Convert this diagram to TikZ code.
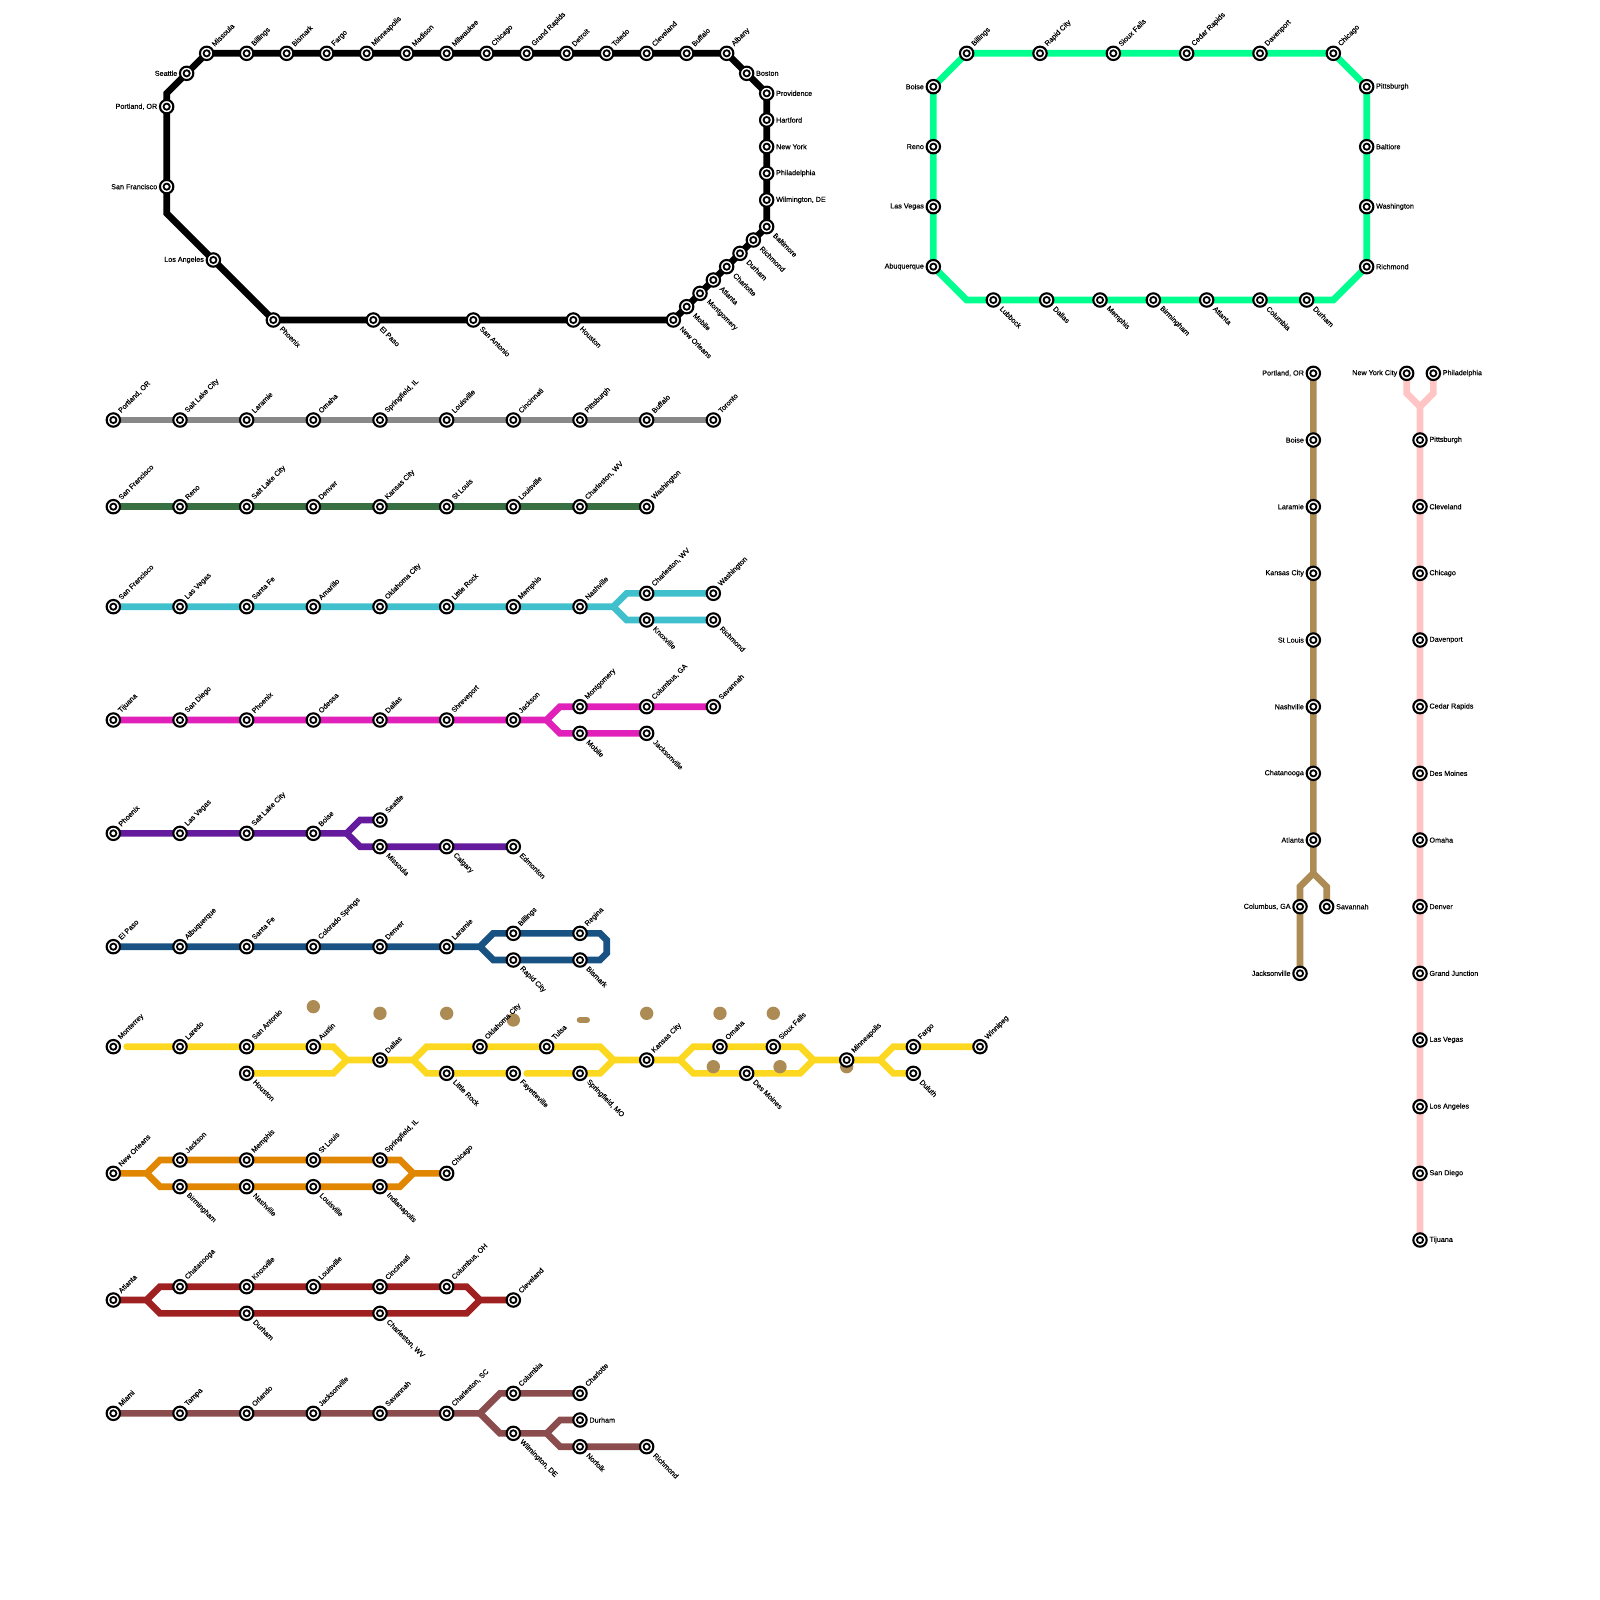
\documentclass[tikz,border=0pt]{standalone}
\usepackage{fontspec}
\setmainfont{Liberation Sans}
\newfontfamily\lblfont[FakeBold=0.25]{Liberation Sans}
\usepackage{xcolor}
\usetikzlibrary{backgrounds}
\definecolor{metroblack}{RGB}{0,0,0}
\definecolor{metrogray}{RGB}{136,136,136}
\definecolor{metrogreen}{RGB}{56,112,68}
\definecolor{metroteal}{RGB}{64,192,204}
\definecolor{metromagenta}{RGB}{224,32,184}
\definecolor{metropurple}{RGB}{100,26,156}
\definecolor{metroblue}{RGB}{24,82,130}
\definecolor{metroyellow}{RGB}{253,216,33}
\definecolor{metroorange}{RGB}{224,134,0}
\definecolor{metrored}{RGB}{158,32,32}
\definecolor{metroplum}{RGB}{138,76,76}
\definecolor{metromint}{RGB}{0,255,143}
\definecolor{metrotan}{RGB}{172,140,84}
\definecolor{metropink}{RGB}{255,196,196}

\begin{document}
\begin{tikzpicture}[
  x=1pt, y=-1pt,
  stn/.style={circle, draw=black, fill=white, line width=2.1pt, inner sep=0pt,
    minimum size=13.4pt,
    path picture={\draw[line width=1.8pt] (path picture bounding box.center) circle (3.1pt);}},
  lbl/.style={font=\lblfont\fontsize{7.2}{8}\selectfont, inner sep=1pt, text=black},
  lblne/.style={label={[lbl, anchor=west, rotate=45, label distance=2pt]45:{#1}}},
  lblse/.style={label={[lbl, anchor=west, rotate=-45, label distance=2pt, xshift=0.5pt, yshift=1.5pt]-45:{#1}}},
  lblw/.style={label={[lbl, anchor=east, label distance=0.5pt]180:{#1}}},
  lble/.style={label={[lbl, anchor=west, label distance=0.5pt]0:{#1}}},
  track/.style={line width=6.67pt, line join=miter},
  blob/.style={circle, fill=metrotan, inner sep=0pt, minimum size=13.33pt}
]
  \useasboundingbox (0,0) rectangle (1600,1600);

  \node[stn, lblne={Missoula}] (blkmissoula) at (206.67,53.33) {};
  \node[stn, lblne={Billings}] (blkbillings) at (246.67,53.33) {};
  \node[stn, lblne={Bismark}] (blkbismark) at (286.67,53.33) {};
  \node[stn, lblne={Fargo}] (blkfargo) at (326.67,53.33) {};
  \node[stn, lblne={Minneapolis}] (blkminneapolis) at (366.67,53.33) {};
  \node[stn, lblne={Madison}] (blkmadison) at (406.67,53.33) {};
  \node[stn, lblne={Milwaukee}] (blkmilwaukee) at (446.67,53.33) {};
  \node[stn, lblne={Chicago}] (blkchicago) at (486.67,53.33) {};
  \node[stn, lblne={Grand Rapids}] (blkgrandrapids) at (526.67,53.33) {};
  \node[stn, lblne={Detroit}] (blkdetroit) at (566.67,53.33) {};
  \node[stn, lblne={Toledo}] (blktoledo) at (606.67,53.33) {};
  \node[stn, lblne={Cleveland}] (blkcleveland) at (646.67,53.33) {};
  \node[stn, lblne={Buffalo}] (blkbuffalo) at (686.67,53.33) {};
  \node[stn, lblne={Albany}] (blkalbany) at (726.67,53.33) {};
  \node[stn, lble={Boston}] (blkboston) at (746.67,73.33) {};
  \node[stn, lble={Providence}] (blkprovidence) at (766.67,93.33) {};
  \node[stn, lble={Hartford}] (blkhartford) at (766.67,120) {};
  \node[stn, lble={New York}] (blknewyork) at (766.67,146.67) {};
  \node[stn, lble={Philadelphia}] (blkphiladelphia) at (766.67,173.33) {};
  \node[stn, lble={Wilmington, DE}] (blkwilmington) at (766.67,200) {};
  \node[stn, lblse={Baltimore}] (blkbaltimore) at (766.67,226.67) {};
  \node[stn, lblse={Richmond}] (blkrichmond) at (753.33,240) {};
  \node[stn, lblse={Durham}] (blkdurham) at (740,253.33) {};
  \node[stn, lblse={Charlotte}] (blkcharlotte) at (726.67,266.67) {};
  \node[stn, lblse={Atlanta}] (blkatlanta) at (713.33,280) {};
  \node[stn, lblse={Montgomery}] (blkmontgomery) at (700,293.33) {};
  \node[stn, lblse={Mobile}] (blkmobile) at (686.67,306.67) {};
  \node[stn, lblse={New Orleans}] (blkneworleans) at (673.33,320) {};
  \node[stn, lblse={Houston}] (blkhouston) at (573.33,320) {};
  \node[stn, lblse={San Antonio}] (blksanantonio) at (473.33,320) {};
  \node[stn, lblse={El Paso}] (blkelpaso) at (373.33,320) {};
  \node[stn, lblse={Phoenix}] (blkphoenix) at (273.33,320) {};
  \node[stn, lblw={Los Angeles}] (blklosangeles) at (213.33,260) {};
  \node[stn, lblw={San Francisco}] (blksanfrancisco) at (166.67,186.67) {};
  \node[stn, lblw={Portland, OR}] (blkportland) at (166.67,106.67) {};
  \node[stn, lblw={Seattle}] (blkseattle) at (186.67,73.33) {};
  \coordinate (blkbendlow) at (166.67,213.33);
  \coordinate (blkbendtop) at (166.67,93.33);

  \node[stn, lblne={Billings}] (mntbillings) at (966.67,53.33) {};
  \node[stn, lblne={Rapid City}] (mntrapidcity) at (1040,53.33) {};
  \node[stn, lblne={Sioux Falls}] (mntsiouxfalls) at (1113.33,53.33) {};
  \node[stn, lblne={Cedar Rapids}] (mntcedarrapids) at (1186.67,53.33) {};
  \node[stn, lblne={Davenport}] (mntdavenport) at (1260,53.33) {};
  \node[stn, lblne={Chicago}] (mntchicago) at (1333.33,53.33) {};
  \node[stn, lble={Pittsburgh}] (mntpittsburgh) at (1366.67,86.67) {};
  \node[stn, lble={Baltiore}] (mntbaltiore) at (1366.67,146.67) {};
  \node[stn, lble={Washington}] (mntwashington) at (1366.67,206.67) {};
  \node[stn, lble={Richmond}] (mntrichmond) at (1366.67,266.67) {};
  \node[stn, lblse={Durham}] (mntdurham) at (1306.67,300) {};
  \node[stn, lblse={Columbia}] (mntcolumbia) at (1260,300) {};
  \node[stn, lblse={Atlanta}] (mntatlanta) at (1206.67,300) {};
  \node[stn, lblse={Birmingham}] (mntbirmingham) at (1153.33,300) {};
  \node[stn, lblse={Memphis}] (mntmemphis) at (1100,300) {};
  \node[stn, lblse={Dallas}] (mntdallas) at (1046.67,300) {};
  \node[stn, lblse={Lubbock}] (mntlubbock) at (993.33,300) {};
  \node[stn, lblw={Abuquerque}] (mntabuquerque) at (933.33,266.67) {};
  \node[stn, lblw={Las Vegas}] (mntlasvegas) at (933.33,206.67) {};
  \node[stn, lblw={Reno}] (mntreno) at (933.33,146.67) {};
  \node[stn, lblw={Boise}] (mntboise) at (933.33,86.67) {};
  \coordinate (mntbendsw) at (966.67,300);
  \coordinate (mntbendse) at (1333.33,300);

  \node[stn, lblne={Portland, OR}] (gryportland) at (113.33,420) {};
  \node[stn, lblne={Salt Lake City}] (grysaltlake) at (180,420) {};
  \node[stn, lblne={Laramie}] (grylaramie) at (246.67,420) {};
  \node[stn, lblne={Omaha}] (gryomaha) at (313.33,420) {};
  \node[stn, lblne={Springfield, IL}] (gryspringfield) at (380,420) {};
  \node[stn, lblne={Louisville}] (grylouisville) at (446.67,420) {};
  \node[stn, lblne={Cincinnati}] (grycincinnati) at (513.33,420) {};
  \node[stn, lblne={Pittsburgh}] (grypittsburgh) at (580,420) {};
  \node[stn, lblne={Buffalo}] (grybuffalo) at (646.67,420) {};
  \node[stn, lblne={Toronto}] (grytoronto) at (713.33,420) {};

  \node[stn, lblne={San Francisco}] (grnsanfrancisco) at (113.33,506.67) {};
  \node[stn, lblne={Reno}] (grnreno) at (180,506.67) {};
  \node[stn, lblne={Salt Lake City}] (grnsaltlake) at (246.67,506.67) {};
  \node[stn, lblne={Denver}] (grndenver) at (313.33,506.67) {};
  \node[stn, lblne={Kansas City}] (grnkansascity) at (380,506.67) {};
  \node[stn, lblne={St Louis}] (grnstlouis) at (446.67,506.67) {};
  \node[stn, lblne={Louisville}] (grnlouisville) at (513.33,506.67) {};
  \node[stn, lblne={Charleston, WV}] (grncharleston) at (580,506.67) {};
  \node[stn, lblne={Washington}] (grnwashington) at (646.67,506.67) {};

  \node[stn, lblne={San Francisco}] (tlsanfrancisco) at (113.33,606.67) {};
  \node[stn, lblne={Las Vegas}] (tllasvegas) at (180,606.67) {};
  \node[stn, lblne={Santa Fe}] (tlsantafe) at (246.67,606.67) {};
  \node[stn, lblne={Amarillo}] (tlamarillo) at (313.33,606.67) {};
  \node[stn, lblne={Oklahoma City}] (tloklahoma) at (380,606.67) {};
  \node[stn, lblne={Little Rock}] (tllittlerock) at (446.67,606.67) {};
  \node[stn, lblne={Memphis}] (tlmemphis) at (513.33,606.67) {};
  \node[stn, lblne={Nashville}] (tlnashville) at (580,606.67) {};
  \node[stn, lblne={Charleston, WV}] (tlcharleston) at (646.67,593.33) {};
  \node[stn, lblne={Washington}] (tlwashington) at (713.33,593.33) {};
  \node[stn, lblse={Knoxville}] (tlknoxville) at (646.67,620) {};
  \node[stn, lblse={Richmond}] (tlrichmond) at (713.33,620) {};
  \coordinate (tlfork) at (613.33,606.67);
  \coordinate (tlup) at (626.67,593.33);
  \coordinate (tldown) at (626.67,620);

  \node[stn, lblne={Tijuana}] (mgtijuana) at (113.33,720) {};
  \node[stn, lblne={San Diego}] (mgsandiego) at (180,720) {};
  \node[stn, lblne={Phoenix}] (mgphoenix) at (246.67,720) {};
  \node[stn, lblne={Odessa}] (mgodessa) at (313.33,720) {};
  \node[stn, lblne={Dallas}] (mgdallas) at (380,720) {};
  \node[stn, lblne={Shreveport}] (mgshreveport) at (446.67,720) {};
  \node[stn, lblne={Jackson}] (mgjackson) at (513.33,720) {};
  \node[stn, lblne={Montgomery}] (mgmontgomery) at (580,706.67) {};
  \node[stn, lblne={Columbus, GA}] (mgcolumbus) at (646.67,706.67) {};
  \node[stn, lblne={Savannah}] (mgsavannah) at (713.33,706.67) {};
  \node[stn, lblse={Mobile}] (mgmobile) at (580,733.33) {};
  \node[stn, lblse={Jacksonville}] (mgjacksonville) at (646.67,733.33) {};
  \coordinate (mgfork) at (546.67,720);
  \coordinate (mgup) at (560,706.67);
  \coordinate (mgdown) at (560,733.33);

  \node[stn, lblne={Phoenix}] (prphoenix) at (113.33,833.33) {};
  \node[stn, lblne={Las Vegas}] (prlasvegas) at (180,833.33) {};
  \node[stn, lblne={Salt Lake City}] (prsaltlake) at (246.67,833.33) {};
  \node[stn, lblne={Boise}] (prboise) at (313.33,833.33) {};
  \node[stn, lblne={Seattle}] (prseattle) at (380,820) {};
  \node[stn, lblse={Missoula}] (prmissoula) at (380,846.67) {};
  \node[stn, lblse={Calgary}] (prcalgary) at (446.67,846.67) {};
  \node[stn, lblse={Edmonton}] (predmonton) at (513.33,846.67) {};
  \coordinate (prfork) at (346.67,833.33);
  \coordinate (prup) at (360,820);
  \coordinate (prdown) at (360,846.67);

  \node[stn, lblne={El Paso}] (blelpaso) at (113.33,946.67) {};
  \node[stn, lblne={Albuquerque}] (blalbuquerque) at (180,946.67) {};
  \node[stn, lblne={Santa Fe}] (blsantafe) at (246.67,946.67) {};
  \node[stn, lblne={Colorado Springs}] (blcolorado) at (313.33,946.67) {};
  \node[stn, lblne={Denver}] (bldenver) at (380,946.67) {};
  \node[stn, lblne={Laramie}] (bllaramie) at (446.67,946.67) {};
  \node[stn, lblne={Billings}] (blbillings) at (513.33,933.33) {};
  \node[stn, lblne={Regina}] (blregina) at (580,933.33) {};
  \node[stn, lblse={Rapid City}] (blrapidcity) at (513.33,960) {};
  \node[stn, lblse={Bismark}] (blbismark) at (580,960) {};
  \coordinate (blfork) at (480,946.67);
  \coordinate (blup) at (493.33,933.33);
  \coordinate (bldown) at (493.33,960);
  \coordinate (blendup) at (600,933.33);
  \coordinate (blendupb) at (606.67,940);
  \coordinate (blenddownb) at (606.67,953.33);
  \coordinate (blenddown) at (600,960);

  \node[stn, lblne={Monterrey}] (ylmonterrey) at (113.33,1046.67) {};
  \node[stn, lblne={Laredo}] (yllaredo) at (180,1046.67) {};
  \node[stn, lblne={San Antonio}] (ylsanantonio) at (246.67,1046.67) {};
  \node[stn, lblne={Austin}] (ylaustin) at (313.33,1046.67) {};
  \node[stn, lblse={Houston}] (ylhouston) at (246.67,1073.33) {};
  \node[stn, lblne={Dallas}] (yldallas) at (380,1060) {};
  \node[stn, lblne={Oklahoma City}] (yloklahoma) at (480,1046.67) {};
  \node[stn, lblne={Tulsa}] (yltulsa) at (546.67,1046.67) {};
  \node[stn, lblse={Little Rock}] (yllittlerock) at (446.67,1073.33) {};
  \node[stn, lblse={Fayetteville}] (ylfayetteville) at (513.33,1073.33) {};
  \node[stn, lblse={Springfield, MO}] (ylspringfield) at (580,1073.33) {};
  \node[stn, lblne={Kansas City}] (ylkansascity) at (646.67,1060) {};
  \node[stn, lblne={Omaha}] (ylomaha) at (720,1046.67) {};
  \node[stn, lblne={Sioux Falls}] (ylsiouxfalls) at (773.33,1046.67) {};
  \node[stn, lblse={Des Moines}] (yldesmoines) at (746.67,1073.33) {};
  \node[stn, lblne={Minneapolis}] (ylminneapolis) at (846.67,1060) {};
  \node[stn, lblne={Fargo}] (ylfargo) at (913.33,1046.67) {};
  \node[stn, lblne={Winnipeg}] (ylwinnipeg) at (980,1046.67) {};
  \node[stn, lblse={Duluth}] (ylduluth) at (913.33,1073.33) {};
  \coordinate (ylstarta) at (126.67,1046.67);
  \coordinate (ylstartb) at (526.67,1073.33);
  \coordinate (ylupa) at (333.33,1046.67);
  \coordinate (yldowna) at (333.33,1073.33);
  \coordinate (ylmerga) at (346.67,1060);
  \coordinate (ylforkb) at (413.33,1060);
  \coordinate (ylupb) at (426.67,1046.67);
  \coordinate (yldownb) at (426.67,1073.33);
  \coordinate (ylupc) at (600,1046.67);
  \coordinate (yldownc) at (600,1073.33);
  \coordinate (ylmergc) at (613.33,1060);
  \coordinate (ylforkd) at (680,1060);
  \coordinate (ylupd) at (693.33,1046.67);
  \coordinate (yldownd) at (693.33,1073.33);
  \coordinate (ylupe) at (800,1046.67);
  \coordinate (yldowne) at (800,1073.33);
  \coordinate (ylmerge) at (813.33,1060);
  \coordinate (ylforkf) at (880,1060);
  \coordinate (ylupf) at (893.33,1046.67);
  \coordinate (yldownf) at (893.33,1073.33);

  \node[stn, lblne={New Orleans}] (orneworleans) at (113.33,1173.33) {};
  \node[stn, lblne={Jackson}] (orjackson) at (180,1160) {};
  \node[stn, lblne={Memphis}] (ormemphis) at (246.67,1160) {};
  \node[stn, lblne={St Louis}] (orstlouis) at (313.33,1160) {};
  \node[stn, lblne={Springfield, IL}] (orspringfield) at (380,1160) {};
  \node[stn, lblse={Birmingham}] (orbirmingham) at (180,1186.67) {};
  \node[stn, lblse={Nashville}] (ornashville) at (246.67,1186.67) {};
  \node[stn, lblse={Louisville}] (orlouisville) at (313.33,1186.67) {};
  \node[stn, lblse={Indianapolis}] (orindianapolis) at (380,1186.67) {};
  \node[stn, lblne={Chicago}] (orchicago) at (446.67,1173.33) {};
  \coordinate (orfork) at (146.67,1173.33);
  \coordinate (orup) at (160,1160);
  \coordinate (ordown) at (160,1186.67);
  \coordinate (orendup) at (400,1160);
  \coordinate (orenddown) at (400,1186.67);
  \coordinate (ormerge) at (413.33,1173.33);

  \node[stn, lblne={Atlanta}] (rdatlanta) at (113.33,1300) {};
  \node[stn, lblne={Chatanooga}] (rdchatanooga) at (180,1286.67) {};
  \node[stn, lblne={Knoxville}] (rdknoxville) at (246.67,1286.67) {};
  \node[stn, lblne={Louisville}] (rdlouisville) at (313.33,1286.67) {};
  \node[stn, lblne={Cincinnati}] (rdcincinnati) at (380,1286.67) {};
  \node[stn, lblne={Columbus, OH}] (rdcolumbus) at (446.67,1286.67) {};
  \node[stn, lblse={Durham}] (rddurham) at (246.67,1313.33) {};
  \node[stn, lblse={Charleston, WV}] (rdcharleston) at (380,1313.33) {};
  \node[stn, lblne={Cleveland}] (rdcleveland) at (513.33,1300) {};
  \coordinate (rdfork) at (146.67,1300);
  \coordinate (rdup) at (160,1286.67);
  \coordinate (rddown) at (160,1313.33);
  \coordinate (rdendup) at (466.67,1286.67);
  \coordinate (rdenddown) at (466.67,1313.33);
  \coordinate (rdmerge) at (480,1300);

  \node[stn, lblne={Miami}] (plmiami) at (113.33,1413.33) {};
  \node[stn, lblne={Tampa}] (pltampa) at (180,1413.33) {};
  \node[stn, lblne={Orlando}] (plorlando) at (246.67,1413.33) {};
  \node[stn, lblne={Jacksonville}] (pljacksonville) at (313.33,1413.33) {};
  \node[stn, lblne={Savannah}] (plsavannah) at (380,1413.33) {};
  \node[stn, lblne={Charleston, SC}] (plcharleston) at (446.67,1413.33) {};
  \node[stn, lblne={Columbia}] (plcolumbia) at (513.33,1393.33) {};
  \node[stn, lblne={Charlotte}] (plcharlotte) at (580,1393.33) {};
  \node[stn, lblse={Wilmington, DE}] (plwilmington) at (513.33,1433.33) {};
  \node[stn, lble={Durham}] (pldurham) at (580,1420) {};
  \node[stn, lblse={Norfolk}] (plnorfolk) at (580,1446.67) {};
  \node[stn, lblse={Richmond}] (plrichmond) at (646.67,1446.67) {};
  \coordinate (plfork) at (480,1413.33);
  \coordinate (plup) at (500,1393.33);
  \coordinate (pldown) at (500,1433.33);
  \coordinate (plforkb) at (546.67,1433.33);
  \coordinate (plupb) at (560,1420);
  \coordinate (pldownb) at (560,1446.67);

  \node[stn, lblw={Portland, OR}] (tnportland) at (1313.33,373.33) {};
  \node[stn, lblw={Boise}] (tnboise) at (1313.33,440) {};
  \node[stn, lblw={Laramie}] (tnlaramie) at (1313.33,506.67) {};
  \node[stn, lblw={Kansas City}] (tnkansascity) at (1313.33,573.33) {};
  \node[stn, lblw={St Louis}] (tnstlouis) at (1313.33,640) {};
  \node[stn, lblw={Nashville}] (tnnashville) at (1313.33,706.67) {};
  \node[stn, lblw={Chatanooga}] (tnchatanooga) at (1313.33,773.33) {};
  \node[stn, lblw={Atlanta}] (tnatlanta) at (1313.33,840) {};
  \node[stn, lblw={Columbus, GA}] (tncolumbus) at (1300,906.67) {};
  \node[stn, lblw={Jacksonville}] (tnjacksonville) at (1300,973.33) {};
  \node[stn, lble={Savannah}] (tnsavannah) at (1326.67,906.67) {};
  \coordinate (tnfork) at (1313.33,873.33);
  \coordinate (tnleft) at (1300,886.67);
  \coordinate (tnright) at (1326.67,886.67);

  \node[stn, lblw={New York City}] (pknewyork) at (1406.67,373.33) {};
  \node[stn, lble={Philadelphia}] (pkphiladelphia) at (1433.33,373.33) {};
  \node[stn, lble={Pittsburgh}] (pkpittsburgh) at (1420,440) {};
  \node[stn, lble={Cleveland}] (pkcleveland) at (1420,506.67) {};
  \node[stn, lble={Chicago}] (pkchicago) at (1420,573.33) {};
  \node[stn, lble={Davenport}] (pkdavenport) at (1420,640) {};
  \node[stn, lble={Cedar Rapids}] (pkcedarrapids) at (1420,706.67) {};
  \node[stn, lble={Des Moines}] (pkdesmoines) at (1420,773.33) {};
  \node[stn, lble={Omaha}] (pkomaha) at (1420,840) {};
  \node[stn, lble={Denver}] (pkdenver) at (1420,906.67) {};
  \node[stn, lble={Grand Junction}] (pkgrandjunction) at (1420,973.33) {};
  \node[stn, lble={Las Vegas}] (pklasvegas) at (1420,1040) {};
  \node[stn, lble={Los Angeles}] (pklosangeles) at (1420,1106.67) {};
  \node[stn, lble={San Diego}] (pksandiego) at (1420,1173.33) {};
  \node[stn, lble={Tijuana}] (pktijuana) at (1420,1240) {};
  \coordinate (pkleft) at (1406.67,393.33);
  \coordinate (pkright) at (1433.33,393.33);
  \coordinate (pkmerge) at (1420,406.67);

  \coordinate (blobbara) at (580,1020);
  \coordinate (blobbarb) at (586.67,1020);

  \begin{pgfonlayer}{background}
    \draw[track, metroblack] (blkmissoula.center) -- (blkalbany.center) -- (blkprovidence.center) -- (blkbaltimore.center) -- (blkneworleans.center) -- (blkphoenix.center) -- (blkbendlow) -- (blkbendtop) -- cycle;
    \draw[track, metromint] (mntbillings.center) -- (mntchicago.center) -- (mntpittsburgh.center) -- (mntrichmond.center) -- (mntbendse) -- (mntbendsw) -- (mntabuquerque.center) -- (mntboise.center) -- cycle;
    \draw[track, metrogray] (gryportland.center) -- (grytoronto.center);
    \draw[track, metrogreen] (grnsanfrancisco.center) -- (grnwashington.center);
    \draw[track, metroteal] (tlsanfrancisco.center) -- (tlfork) -- (tlup) -- (tlwashington.center);
    \draw[track, metroteal] (tlfork) -- (tldown) -- (tlrichmond.center);
    \draw[track, metromagenta] (mgtijuana.center) -- (mgfork) -- (mgup) -- (mgsavannah.center);
    \draw[track, metromagenta] (mgfork) -- (mgdown) -- (mgjacksonville.center);
    \draw[track, metropurple] (prphoenix.center) -- (prfork) -- (prup) -- (prseattle.center);
    \draw[track, metropurple] (prfork) -- (prdown) -- (predmonton.center);
    \draw[track, metroblue] (blelpaso.center) -- (blfork) -- (blup) -- (blendup) -- (blendupb) -- (blenddownb) -- (blenddown) -- (bldown) -- (blfork);
    \draw[track, metroyellow, line cap=round] (ylstarta) -- (ylupa) -- (ylmerga) -- (ylforkb) -- (ylupb) -- (ylupc) -- (ylmergc) -- (ylforkd) -- (ylupd) -- (ylupe) -- (ylmerge) -- (ylforkf) -- (ylupf) -- (ylwinnipeg.center);
    \draw[track, metroyellow] (ylhouston.center) -- (yldowna) -- (ylmerga);
    \draw[track, metroyellow] (ylforkb) -- (yldownb) -- (ylfayetteville.center);
    \draw[track, metroyellow, line cap=round] (ylstartb) -- (yldownc) -- (ylmergc);
    \draw[track, metroyellow] (ylforkd) -- (yldownd) -- (yldowne) -- (ylmerge);
    \draw[track, metroyellow] (ylforkf) -- (yldownf) -- (ylduluth.center);
    \draw[track, metroorange] (orneworleans.center) -- (orfork) -- (orup) -- (orendup) -- (ormerge) -- (orchicago.center);
    \draw[track, metroorange] (orfork) -- (ordown) -- (orenddown) -- (ormerge);
    \draw[track, metrored] (rdatlanta.center) -- (rdfork) -- (rdup) -- (rdendup) -- (rdmerge) -- (rdcleveland.center);
    \draw[track, metrored] (rdfork) -- (rddown) -- (rdenddown) -- (rdmerge);
    \draw[track, metroplum] (plmiami.center) -- (plfork) -- (plup) -- (plcharlotte.center);
    \draw[track, metroplum] (plfork) -- (pldown) -- (plforkb) -- (plupb) -- (pldurham.center);
    \draw[track, metroplum] (plforkb) -- (pldownb) -- (plrichmond.center);
    \draw[track, metrotan] (tnportland.center) -- (tnfork) -- (tnleft) -- (tnjacksonville.center);
    \draw[track, metrotan] (tnfork) -- (tnright) -- (tnsavannah.center);
    \draw[track, metropink] (pknewyork.center) -- (pkleft) -- (pkmerge) -- (pktijuana.center);
    \draw[track, metropink] (pkphiladelphia.center) -- (pkright) -- (pkmerge);

    \node[blob] (bloba) at (313.33,1006.67) {};
    \node[blob] (blobb) at (380,1013.33) {};
    \node[blob] (blobc) at (446.67,1013.33) {};
    \node[blob] (blobd) at (513.33,1020) {};
    \node[blob] (blobe) at (646.67,1013.33) {};
    \node[blob] (blobf) at (720,1013.33) {};
    \node[blob] (blobg) at (773.33,1013.33) {};
    \node[blob] (blobh) at (713.33,1066.67) {};
    \node[blob] (blobi) at (780,1066.67) {};
    \node[blob] (blobj) at (846.67,1066.67) {};
    \draw[track, metrotan, line cap=round] (blobbara) -- (blobbarb);
  \end{pgfonlayer}
\end{tikzpicture}
\end{document}
